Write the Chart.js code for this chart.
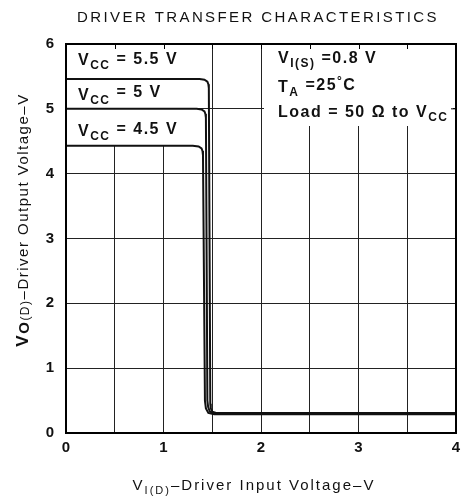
<!DOCTYPE html>
<html>
<head>
<meta charset="utf-8">
<script src="https://cdn.jsdelivr.net/npm/chart.js@4/dist/chart.umd.min.js"></script>
<style>html,body{margin:0;padding:0;background:#fff}</style>
</head>
<body>
<canvas id="chart" width="467" height="496"></canvas>
<script>
// curves (x = input V, y = output V)
const vcc45X = [0, 1.30, 1.36, 1.39, 1.40, 1.405, 1.425, 1.435, 1.46, 1.52, 4];
const vcc45Y = [4.43, 4.43, 4.42, 4.39, 4.35, 4.28, 0.50, 0.38, 0.31, 0.29, 0.29];
const vcc5X = [0, 1.34, 1.39, 1.42, 1.43, 1.435, 1.45, 1.458, 1.475, 1.52, 4];
const vcc5Y = [5.0, 5.0, 4.99, 4.96, 4.92, 4.86, 0.50, 0.40, 0.33, 0.30, 0.30];
const vcc55X = [0, 1.37, 1.42, 1.45, 1.46, 1.465, 1.48, 1.485, 1.50, 1.54, 4];
const vcc55Y = [5.46, 5.46, 5.45, 5.42, 5.38, 5.32, 0.45, 0.38, 0.33, 0.31, 0.31];

const xTicks = [0, 1, 2, 3, 4];
const yTicks = [0, 1, 2, 3, 4, 5, 6];

const FONT = '"Liberation Sans", Arial, sans-serif';

function pts(xs, ys) {
  return xs.map((x, i) => ({ x: x, y: ys[i] }));
}

// draws a run of text pieces: [text, font, dy]
function rich(ctx, x, y, parts, align, spacing) {
  ctx.letterSpacing = spacing || '0px';
  let w = 0;
  parts.forEach(p => { ctx.font = p[1]; w += ctx.measureText(p[0]).width; });
  let cx = align === 'center' ? x - w / 2 : x;
  ctx.textAlign = 'left';
  ctx.textBaseline = 'alphabetic';
  parts.forEach(p => {
    ctx.font = p[1];
    ctx.fillText(p[0], cx, y + (p[2] || 0));
    cx += ctx.measureText(p[0]).width;
  });
  ctx.letterSpacing = '0px';
}

const decor = {
  id: 'decor',
  beforeDatasetsDraw(chart) {
    const ctx = chart.ctx, a = chart.chartArea;
    const xs = chart.scales.x, ys = chart.scales.y;
    ctx.save();
    // white areas where the labels sit over the grid
    ctx.fillStyle = '#fff';
    ctx.fillRect(a.left + 1, a.top + 1, xs.getPixelForValue(1.3) - a.left - 1, ys.getPixelForValue(4.43) - a.top - 1);
    ctx.fillRect(xs.getPixelForValue(2) + 3, a.top + 1, a.right - xs.getPixelForValue(2) - 6, 125 - a.top);
    // small inner ticks on top and right edges
    ctx.strokeStyle = '#000';
    ctx.lineWidth = 1;
    ctx.beginPath();
    for (let v = 0.5; v < 4; v += 0.5) {
      const px = Math.round(xs.getPixelForValue(v)) + 0.5;
      ctx.moveTo(px, a.top); ctx.lineTo(px, a.top + 5);
    }
    ctx.moveTo(a.right, ys.getPixelForValue(5)); ctx.lineTo(a.right - 5, ys.getPixelForValue(5));
    ctx.stroke();

    ctx.fillStyle = '#111';
    const b = 'bold 16px ' + FONT, s = 'bold 12px ' + FONT;
    const sp = '1.5px';
    rich(ctx, 78, 65, [['V', b, 0], ['CC', s, 4], [' = 5.5 V', b, -1]], 'left', sp);
    rich(ctx, 78, 100, [['V', b, 0], ['CC', s, 4], [' = 5 V', b, -3]], 'left', sp);
    rich(ctx, 78, 136, [['V', b, 0], ['CC', s, 4], [' = 4.5 V', b, -2]], 'left', sp);
    rich(ctx, 278, 63, [['V', b, 0], ['I(S)', s, 4], [' =0.8 V', b, 0]], 'left', sp);
    rich(ctx, 278, 92, [['T', b, 0], ['A', s, 4], [' =25', b, -2], ['°', s, -7], ['C', b, -2]], 'left', sp);
    rich(ctx, 278, 117, [['Load = 50 Ω to V', b, 0], ['CC', s, 4]], 'left', sp);
    ctx.restore();
  },
  afterDraw(chart) {
    const ctx = chart.ctx, a = chart.chartArea;
    ctx.save();
    ctx.strokeStyle = '#000';
    ctx.lineWidth = 2;
    ctx.strokeRect(a.left, a.top, a.right - a.left, a.bottom - a.top);

    ctx.fillStyle = '#111';
    rich(ctx, 258, 22, [['DRIVER TRANSFER CHARACTERISTICS', '15px ' + FONT, 0]], 'center', '2.4px');

    const r = '15px ' + FONT, rs = '11px ' + FONT;
    rich(ctx, 254, 490, [['V', r, 0], ['I(D)', rs, 4], ['–Driver Input Voltage–V', r, 0]], 'center', '2px');

    ctx.translate(28, 220);
    ctx.rotate(-Math.PI / 2);
    rich(ctx, 0, 0, [['V', 'bold 17px ' + FONT, 0], ['O', 'bold 15px ' + FONT, 1], ['(D)', '12px ' + FONT, 1], ['–Driver Output Voltage–V', r, 0]], 'center', '1.5px');
    ctx.restore();
  }
};

function curve(label, xs, ys) {
  return {
    label: label,
    data: pts(xs, ys),
    showLine: true,
    borderColor: '#111',
    borderWidth: 2,
    pointRadius: 0,
    tension: 0,
    fill: false
  };
}

new Chart(document.getElementById('chart').getContext('2d'), {
  type: 'scatter',
  data: {
    datasets: [
      curve('VCC = 4.5 V', vcc45X, vcc45Y),
      curve('VCC = 5 V', vcc5X, vcc5Y),
      curve('VCC = 5.5 V', vcc55X, vcc55Y)
    ]
  },
  options: {
    responsive: false,
    animation: false,
    layout: { padding: { left: 0, right: 11, top: 44, bottom: 0 } },
    plugins: { legend: { display: false }, tooltip: { enabled: false }, title: { display: false } },
    scales: {
      x: {
        type: 'linear', min: 0, max: 4,
        afterFit: s => { s.height = 63; },
        grid: { color: '#222', lineWidth: 1, drawTicks: false },
        border: { color: '#000', width: 2 },
        ticks: {
          stepSize: 0.5, padding: 6, color: '#111', font: { family: FONT, size: 15, weight: 'bold' },
          callback: v => xTicks.includes(v) ? String(v) : ''
        }
      },
      y: {
        type: 'linear', min: 0, max: 6,
        afterFit: s => { s.width = 66; },
        grid: { color: '#222', lineWidth: 1, drawTicks: false },
        border: { color: '#000', width: 2 },
        ticks: {
          stepSize: 1, padding: 12, color: '#111', font: { family: FONT, size: 15, weight: 'bold' },
          callback: v => yTicks.includes(v) ? String(v) : ''
        }
      }
    }
  },
  plugins: [decor]
});
</script>
</body>
</html>
